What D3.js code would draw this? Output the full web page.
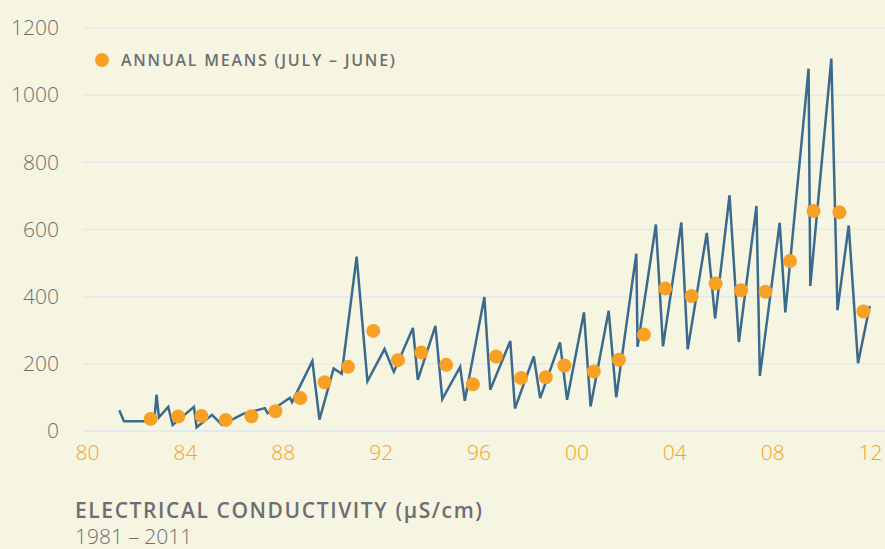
<!DOCTYPE html>
<html>
<head>
<meta charset="utf-8">
<script src="https://cdn.jsdelivr.net/npm/d3@7"></script>
<style>
  body { margin: 0; background: #f5f5e2; }
  svg { display: block; }
  text { font-family: "Open Sans", "Noto Sans", sans-serif; }
</style>
</head>
<body>
<script>
// readings (decimal year) and values
var lineYears = [1981.32, 1981.51, 1982.75, 1982.84, 1982.94, 1983.32, 1983.50, 1984.37, 1984.48, 1985.11,
  1985.52, 1986.38, 1987.27, 1987.38, 1988.29, 1988.38, 1989.21, 1989.50, 1990.08, 1990.41,
  1991.02, 1991.46, 1992.16, 1992.54, 1993.32, 1993.52, 1994.24, 1994.52, 1995.25, 1995.44,
  1996.24, 1996.48, 1997.30, 1997.49, 1998.26, 1998.52, 1999.33, 1999.62, 2000.31, 2000.58,
  2001.32, 2001.63, 2002.45, 2002.50, 2003.25, 2003.54, 2004.29, 2004.55, 2005.33, 2005.67,
  2006.26, 2006.64, 2007.36, 2007.50, 2008.31, 2008.54, 2009.49, 2009.56, 2010.42, 2010.67,
  2011.13, 2011.51, 2011.99];
var lineValues = [62, 29, 29, 108, 41, 72, 18, 72, 11, 48,
  18, 51, 68, 53, 99, 86, 208, 34, 186, 170,
  519, 148, 244, 176, 307, 152, 313, 95, 191, 90,
  399, 123, 268, 67, 222, 98, 264, 93, 353, 73,
  358, 100, 528, 251, 615, 252, 621, 243, 590, 335,
  702, 265, 670, 164, 620, 353, 1079, 432, 1109, 360,
  612, 202, 372];

// annual means (July - June)
var meanYears = [1982.60, 1983.73, 1984.68, 1985.67, 1986.72, 1987.70, 1988.72, 1989.71, 1990.67, 1991.70,
  1992.71, 1993.66, 1994.68, 1995.77, 1996.72, 1997.74, 1998.75, 1999.51, 2000.71, 2001.74,
  2002.76, 2003.63, 2004.71, 2005.69, 2006.73, 2007.73, 2008.73, 2009.69, 2010.75, 2011.73];
var meanValues = [36, 43, 45, 33, 44, 59, 98, 145, 191, 298,
  211, 234, 197, 139, 222, 158, 160, 195, 177, 212,
  287, 424, 402, 439, 419, 415, 506, 655, 651, 356];

var yTicks = [0, 200, 400, 600, 800, 1000, 1200];
var xTicks = [1980, 1984, 1988, 1992, 1996, 2000, 2004, 2008, 2012];

var width = 885, height = 549;

var x = d3.scaleLinear().domain([1980, 2012]).range([87, 870]);
var y = d3.scaleLinear().domain([0, 1200]).range([431, 28]);

var svg = d3.select("body").append("svg")
    .attr("width", width)
    .attr("height", height);

svg.append("rect")
    .attr("width", width)
    .attr("height", height)
    .attr("fill", "#f5f5e2");

// gridlines
svg.append("g")
  .selectAll("line")
  .data(yTicks)
  .enter().append("line")
    .attr("x1", 83)
    .attr("x2", width)
    .attr("y1", function(d) { return y(d); })
    .attr("y2", function(d) { return y(d); })
    .attr("stroke", "#e3e9ec")
    .attr("stroke-width", function(d) { return d === 0 ? 2 : 1.5; });

// y axis labels
var yAxis = svg.append("g")
    .attr("transform", "translate(59,0)")
    .call(d3.axisLeft(y).tickValues(yTicks).tickSize(0).tickPadding(0).tickFormat(d3.format("d")));
yAxis.select(".domain").remove();
yAxis.selectAll("text")
    .attr("fill", "#6d6e71")
    .style("font-size", "21px")
    .style("font-weight", "300")
    .style("font-family", "'Open Sans', 'Noto Sans', sans-serif");

// x axis labels
var xAxis = svg.append("g")
    .attr("transform", "translate(0,445)")
    .call(d3.axisBottom(x).tickValues(xTicks).tickSize(0).tickPadding(0)
      .tickFormat(function(d) { return d3.format("02d")(d % 100); }));
xAxis.select(".domain").remove();
xAxis.selectAll("text")
    .attr("fill", "#f7a128")
    .style("font-size", "21px")
    .style("font-weight", "300")
    .style("font-family", "'Open Sans', 'Noto Sans', sans-serif");

// line
var lineData = lineYears.map(function(d, i) { return [d, lineValues[i]]; });
var line = d3.line()
    .x(function(d) { return x(d[0]); })
    .y(function(d) { return y(d[1]); });

svg.append("path")
    .datum(lineData)
    .attr("d", line)
    .attr("fill", "none")
    .attr("stroke", "#3b6a8d")
    .attr("stroke-width", 2.5)
    .attr("stroke-linejoin", "miter");

// annual mean dots
svg.append("g")
  .selectAll("circle")
  .data(meanYears)
  .enter().append("circle")
    .attr("cx", function(d) { return x(d); })
    .attr("cy", function(d, i) { return y(meanValues[i]); })
    .attr("r", 7)
    .attr("fill", "#f7a023");

// legend
svg.append("circle")
    .attr("cx", 102)
    .attr("cy", 60)
    .attr("r", 7)
    .attr("fill", "#f7a023");
svg.append("text")
    .attr("x", 121)
    .attr("y", 60)
    .attr("dy", "0.36em")
    .attr("fill", "#6d6e71")
    .style("font-size", "16px")
    .style("font-weight", "600")
    .style("letter-spacing", "1.75px")
    .text("ANNUAL MEANS (JULY \u2013 JUNE)");

// title
svg.append("text")
    .attr("x", 75)
    .attr("y", 518)
    .attr("fill", "#6d6e71")
    .style("font-size", "21px")
    .style("font-weight", "600")
    .style("letter-spacing", "1.6px")
    .text("ELECTRICAL CONDUCTIVITY (\u00b5S/cm)");
svg.append("text")
    .attr("x", 75)
    .attr("y", 544)
    .attr("fill", "#6d6e71")
    .style("font-size", "21px")
    .style("font-weight", "300")
    .text("1981 \u2013 2011");
</script>
</body>
</html>
